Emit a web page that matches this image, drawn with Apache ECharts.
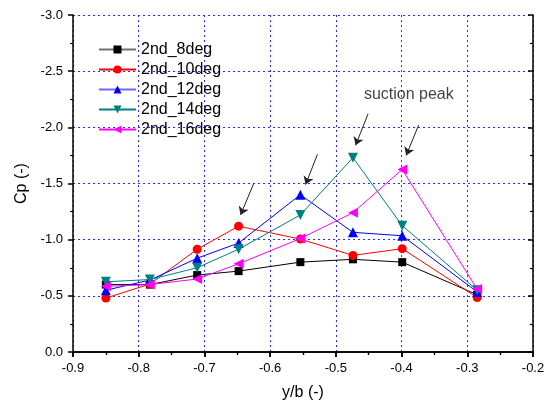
<!DOCTYPE html>
<html><head><meta charset="utf-8">
<script src="https://cdn.jsdelivr.net/npm/echarts@6/dist/echarts.min.js"></script>
<style>html,body{margin:0;padding:0;background:#fff}#c{width:548px;height:407px}</style>
</head><body><div id="c"></div>
<script>
const xPos = [-0.85, -0.783, -0.711, -0.648, -0.554, -0.474, -0.399, -0.285];
const cp8  = [-0.60, -0.60, -0.685, -0.72, -0.80, -0.825, -0.80, -0.51];
const cp10 = [-0.48, -0.605, -0.915, -1.12, -1.005, -0.86, -0.92, -0.485];
const cp12 = [-0.55, -0.64, -0.835, -0.97, -1.40, -1.065, -1.035, -0.535];
const cp14 = [-0.625, -0.645, -0.75, -0.915, -1.22, -1.73, -1.125, -0.55];
const cp16 = [-0.585, -0.60, -0.65, -0.785, -1.01, -1.24, -1.625, -0.56];
const seriesNames = ['2nd_8deg', '2nd_10deg', '2nd_12deg', '2nd_14deg', '2nd_16deg'];
const arrows = [
  [[-0.625, -1.50], [-0.645, -1.22]],
  [[-0.528, -1.76], [-0.546, -1.49]],
  [[-0.451, -2.12], [-0.470, -1.84]],
  [[-0.374, -2.02], [-0.393, -1.75]]
];
const noteText = 'suction peak';
const notePos = [-0.389, -2.29];

const values = [cp8, cp10, cp12, cp14, cp16];
const colors = ['#000000', '#ff0000', '#0000ff', '#008080', '#ff00ff'];
const legendLineColors = ['#707070', '#ff0000', '#6b6bff', '#008080', '#ff00ff'];
const symbols = ['rect', 'circle', 'triangle', 'triangle', 'triangle'];
const rotates = [0, 0, 0, 180, 90];
const sizes = [8, 9, 10, 10, 10];
const font = 'Liberation Sans, Arial, sans-serif';

const series = values.map((v, i) => ({
  name: seriesNames[i], type: 'line', xAxisIndex: 0, yAxisIndex: 0,
  data: v.map((y, k) => [xPos[k], y]),
  symbol: symbols[i], symbolRotate: rotates[i], symbolSize: sizes[i],
  showAllSymbol: true,
  lineStyle: { color: colors[i], width: 1 },
  itemStyle: { color: colors[i] },
  animation: false, z: 3 + i
}));
series.push({
  type: 'scatter', xAxisIndex: 0, yAxisIndex: 0, symbolSize: 0, silent: true,
  data: [notePos],
  label: { show: true, position: 'inside', formatter: noteText, color: '#111', fontSize: 16, fontFamily: font },
  markLine: {
    silent: true, symbol: ['none', 'arrow'], symbolSize: 8,
    lineStyle: { color: '#222', width: 1, type: 'solid' }, label: { show: false },
    data: arrows.map(a => [{ coord: a[0] }, { coord: a[1] }])
  },
  animation: false
});

const axisLine = { show: true, lineStyle: { color: '#000', width: 1.5 } };
const chart = echarts.init(document.getElementById('c'), null, { renderer: 'canvas' });
chart.setOption({
  backgroundColor: '#fff',
  animation: false,
  grid: { left: 73, right: 15, top: 15, bottom: 55 },
  legend: {
    data: seriesNames.map((n, i) => ({ name: n, lineStyle: { color: legendLineColors[i] } })),
    orient: 'vertical', left: 98, top: 41, padding: 0,
    itemWidth: 37, itemHeight: 10, itemGap: 3,
    textStyle: { fontSize: 16, fontFamily: font, color: '#000', lineHeight: 17 }
  },
  xAxis: [{
    type: 'value', position: 'bottom', min: -0.9, max: -0.2, interval: 0.1,
    name: 'y/b (-)', nameLocation: 'middle', nameGap: 33,
    nameTextStyle: { fontSize: 16, fontFamily: font, color: '#000' },
    axisLine, axisTick: { show: true, inside: false, length: 5, lineStyle: { color: '#000', width: 1.5 } },
    minorTick: { show: true, splitNumber: 2, length: 3, lineStyle: { color: '#000', width: 1.2 } },
    axisLabel: { fontSize: 13, fontFamily: font, color: '#000', margin: 10, formatter: v => v.toFixed(1) },
    splitLine: { show: true, lineStyle: { color: '#2b2bff', width: 1, type: [2, 3] } }
  }, {
    type: 'value', position: 'top', min: -0.9, max: -0.2, interval: 0.1,
    axisLine, axisTick: { show: true, inside: true, length: 5, lineStyle: { color: '#000', width: 1.5 } },
    minorTick: { show: true, splitNumber: 2, length: 3, lineStyle: { color: '#000', width: 1.2 } },
    axisLabel: { show: false }, splitLine: { show: false }
  }],
  yAxis: [{
    type: 'value', position: 'left', min: -3, max: 0, interval: 0.5, inverse: true,
    name: 'Cp (-)', nameLocation: 'middle', nameGap: 42, nameRotate: 90,
    nameTextStyle: { fontSize: 16, fontFamily: font, color: '#000' },
    axisLine, axisTick: { show: true, inside: false, length: 5, lineStyle: { color: '#000', width: 1.5 } },
    minorTick: { show: true, splitNumber: 2, length: 3, lineStyle: { color: '#000', width: 1.2 } },
    axisLabel: { fontSize: 13, fontFamily: font, color: '#000', margin: 10, formatter: v => v.toFixed(1) },
    splitLine: { show: true, lineStyle: { color: '#2b2bff', width: 1, type: [2, 3] } }
  }, {
    type: 'value', position: 'right', min: -3, max: 0, interval: 0.5, inverse: true,
    axisLine, axisTick: { show: true, inside: true, length: 5, lineStyle: { color: '#000', width: 1.5 } },
    minorTick: { show: true, splitNumber: 2, length: 3, lineStyle: { color: '#000', width: 1.2 } },
    axisLabel: { show: false }, splitLine: { show: false }
  }],
  series
});
</script></body></html>
